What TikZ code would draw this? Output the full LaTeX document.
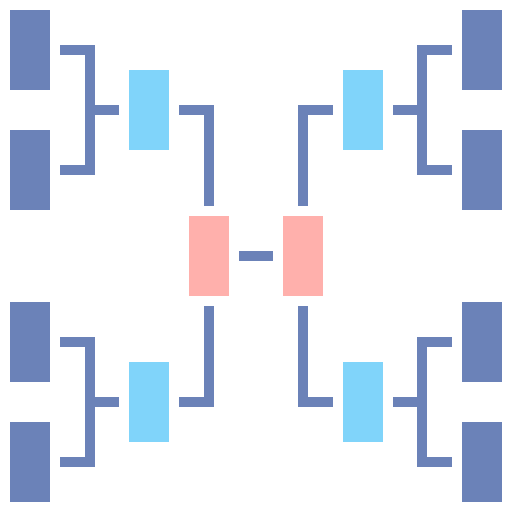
\documentclass[tikz,border=0pt]{standalone}
\definecolor{teamblue}{HTML}{6B82B8}
\definecolor{semicyan}{HTML}{80D4FA}
\definecolor{finalpink}{HTML}{FFB0AC}
\begin{document}
\begin{tikzpicture}[x=0.5mm, y=-0.5mm,
  box/.style={inner sep=0pt, minimum width=20mm, minimum height=40mm},
  team/.style={box, fill=teamblue}, semi/.style={box, fill=semicyan}, final/.style={box, fill=finalpink},
  link/.style={draw=teamblue, line width=5mm, line join=miter, line cap=butt}]
  \fill[white] (0,0) rectangle (512,512); \useasboundingbox (0,0) rectangle (512,512);
  % first round, left and right
  \node[team] (t1) at (30,50) {}; \node[team] (t2) at (30,170) {};
  \node[team] (t3) at (30,342) {}; \node[team] (t4) at (30,462) {};
  \node[team] (t5) at (482,50) {}; \node[team] (t6) at (482,170) {};
  \node[team] (t7) at (482,342) {}; \node[team] (t8) at (482,462) {};
  % semifinals and final
  \node[semi] (c1) at (149,110) {}; \node[semi] (c2) at (363,110) {};
  \node[semi] (c3) at (149,402) {}; \node[semi] (c4) at (363,402) {};
  \node[final] (f1) at (209,256) {}; \node[final] (f2) at (303,256) {};
  % brackets into the semifinals
  \draw[link] ([xshift=5mm]t1.east) -| ([xshift=20mm]t2.east) -- ([xshift=5mm]t2.east);
  \draw[link] ([xshift=5mm]t3.east) -| ([xshift=20mm]t4.east) -- ([xshift=5mm]t4.east);
  \draw[link] ([xshift=-5mm]t5.west) -| ([xshift=-20mm]t6.west) -- ([xshift=-5mm]t6.west);
  \draw[link] ([xshift=-5mm]t7.west) -| ([xshift=-20mm]t8.west) -- ([xshift=-5mm]t8.west);
  \draw[link] ([xshift=-5mm]c1.west) -- ++(-29,0); \draw[link] ([xshift=-5mm]c3.west) -- ++(-29,0);
  \draw[link] ([xshift=5mm]c2.east) -- ++(29,0); \draw[link] ([xshift=5mm]c4.east) -- ++(29,0);
  % semifinals into the final
  \draw[link] ([xshift=5mm]c1.east) -| ([yshift=5mm]f1.north);
  \draw[link] ([xshift=5mm]c3.east) -| ([yshift=-5mm]f1.south);
  \draw[link] ([xshift=-5mm]c2.west) -| ([yshift=5mm]f2.north);
  \draw[link] ([xshift=-5mm]c4.west) -| ([yshift=-5mm]f2.south);
  \draw[link] ([xshift=5mm]f1.east) -- ([xshift=-5mm]f2.west);
\end{tikzpicture}
\end{document}
